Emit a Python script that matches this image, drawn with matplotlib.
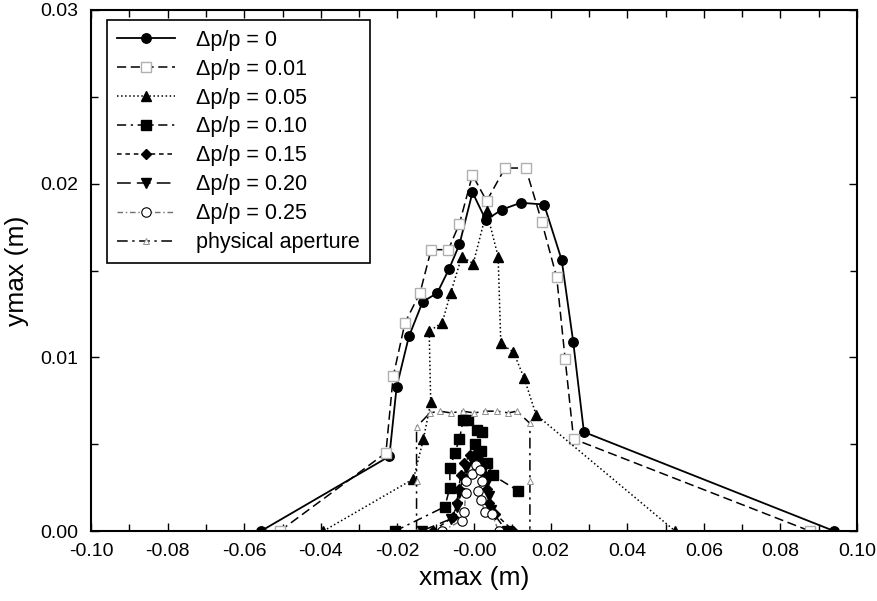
import matplotlib
matplotlib.use("Agg")
import matplotlib.pyplot as plt
from matplotlib.ticker import MultipleLocator, FormatStrFormatter

plt.rcParams['font.family'] = ['Liberation Sans', 'DejaVu Sans']

# Δp/p = 0
x0 = [-0.0556, -0.0221, -0.0202, -0.0170, -0.0134, -0.0096, -0.0065, -0.0038, -0.0004,
      0.0031, 0.0072, 0.0122, 0.0183, 0.0229, 0.0259, 0.0287, 0.0940]
y0 = [0.0, 0.0043, 0.0083, 0.0112, 0.0132, 0.0137, 0.0151, 0.0165, 0.0195,
      0.0179, 0.0185, 0.0189, 0.0188, 0.0156, 0.0109, 0.0057, 0.0]
# Δp/p = 0.01
x1 = [-0.0507, -0.0230, -0.0211, -0.0180, -0.0141, -0.0112, -0.0067, -0.0038, -0.0004,
      0.0033, 0.0081, 0.0135, 0.0177, 0.0216, 0.0238, 0.0260, 0.0877]
y1 = [0.0, 0.0045, 0.0089, 0.0120, 0.0137, 0.0162, 0.0162, 0.0177, 0.0205,
      0.0190, 0.0209, 0.0209, 0.0178, 0.0146, 0.0099, 0.0053, 0.0]
# Δp/p = 0.05
x5 = [-0.0393, -0.0158, -0.0132, -0.0113, -0.0117, -0.0083, -0.0061, -0.0032, -0.0002,
      0.0033, 0.0063, 0.0070, 0.0103, 0.0131, 0.0162, 0.0525]
y5 = [0.0, 0.0030, 0.0053, 0.0074, 0.0115, 0.0120, 0.0137, 0.0158, 0.0154,
      0.0184, 0.0158, 0.0108, 0.0103, 0.0088, 0.0067, 0.0]
# Δp/p = 0.10
x10 = [-0.0206, -0.0076, -0.0063, -0.0063, -0.0050, -0.0038, -0.0028, -0.0015, 0.0007,
       0.0020, 0.0003, 0.0018, 0.0035, 0.0050, 0.0116]
y10 = [0.0, 0.0014, 0.0025, 0.0036, 0.0045, 0.0053, 0.0064, 0.0064, 0.0058,
       0.0057, 0.0050, 0.0046, 0.0039, 0.0032, 0.0023]
# Δp/p = 0.15
x15 = [-0.0107, -0.0055, -0.0045, -0.0040, -0.0035, -0.0025, -0.0010, 0.0005, 0.0020,
       0.0030, 0.0035, 0.0040, 0.0055, 0.0103]
y15 = [0.0, 0.0008, 0.0016, 0.0024, 0.0032, 0.0039, 0.0044, 0.0045, 0.0040,
       0.0032, 0.0024, 0.0016, 0.0010, 0.0]
# Δp/p = 0.20
x20 = [-0.0137, -0.0060, -0.0045, -0.0038, -0.0030, -0.0020, -0.0005, 0.0010, 0.0025,
       0.0033, 0.0038, 0.0045, 0.0085]
y20 = [0.0, 0.0007, 0.0014, 0.0022, 0.0030, 0.0036, 0.0041, 0.0042, 0.0036,
       0.0028, 0.0020, 0.0012, 0.0]
# Δp/p = 0.25
x25 = [-0.0084, -0.0032, -0.0025, -0.0022, -0.0020, -0.0005, 0.0005, 0.0015, 0.0020,
       0.0010, 0.0018, 0.0028, 0.0047, 0.0064]
y25 = [0.0, 0.0006, 0.0011, 0.0022, 0.0029, 0.0033, 0.0038, 0.0035, 0.0029,
       0.0023, 0.0018, 0.0011, 0.0010, 0.0]
# physical aperture
xa = [-0.0150, -0.0150, -0.0150, -0.0115, -0.0090, -0.0060, -0.0030, 0.0000, 0.0030,
      0.0060, 0.0090, 0.0112, 0.0146, 0.0146, 0.0146]
ya = [0.0, 0.0029, 0.0060, 0.0068, 0.0069, 0.0068, 0.0069, 0.0068, 0.0069,
      0.0069, 0.0068, 0.0069, 0.0062, 0.0029, 0.0]

labels = ['Δp/p = 0', 'Δp/p = 0.01', 'Δp/p = 0.05', 'Δp/p = 0.10',
          'Δp/p = 0.15', 'Δp/p = 0.20', 'Δp/p = 0.25', 'physical aperture']

fig = plt.figure(figsize=(8.77, 6.01), dpi=100)
ax = fig.add_axes([91/877, 70/601, 766/877, 521/601])

ms = 6.8
ax.plot(x0, y0, '-', color='black', lw=1.3, marker='o', ms=ms, mfc='black', mec='black', label=labels[0])
ax.plot(x1, y1, '--', color='black', lw=1.1, dashes=(6, 3), marker='s', ms=ms, mfc='white',
        mec='#b0b0b0', label=labels[1])
ax.plot(x5, y5, ':', color='black', lw=1.1, marker='^', ms=ms, mfc='black', mec='black', label=labels[2])
ax.plot(x10, y10, '-.', color='black', lw=1.1, dashes=(6, 3, 1.5, 3), marker='s', ms=ms,
        mfc='black', mec='black', label=labels[3])
ax.plot(x15, y15, '--', color='black', lw=1.1, dashes=(3, 2.5), marker='D', ms=5.5, mfc='black',
        mec='black', label=labels[4])
ax.plot(x20, y20, '--', color='black', lw=1.1, dashes=(9, 4), marker='v', ms=ms, mfc='black',
        mec='black', label=labels[5])
ax.plot(x25, y25, '-.', color='#707070', lw=1.0, dashes=(4, 2, 1, 2), marker='o', ms=ms,
        mfc='white', mec='black', mew=0.8, label=labels[6])
ax.plot(xa, ya, '-.', color='black', lw=1.1, dashes=(7, 3, 1.5, 3), marker='^', ms=4,
        mfc='white', mec='#909090', mew=0.7, label=labels[7])

ax.set_xlim(-0.10, 0.10)
ax.set_ylim(0.0, 0.03)
ax.xaxis.set_major_locator(MultipleLocator(0.02))
ax.xaxis.set_minor_locator(MultipleLocator(0.01))
ax.yaxis.set_major_locator(MultipleLocator(0.01))
ax.yaxis.set_minor_locator(MultipleLocator(0.005))
ax.xaxis.set_major_formatter(FormatStrFormatter('%.2f'))
ax.yaxis.set_major_formatter(FormatStrFormatter('%.2f'))
ax.tick_params(which='both', direction='in', top=True, right=True, labelsize=14, width=1.0)
ax.tick_params(which='major', length=6)
ax.tick_params(axis='x', which='major', pad=9)
ax.tick_params(axis='y', which='major', pad=9)
ax.tick_params(which='minor', length=5)
for s in ax.spines.values():
    s.set_linewidth(1.5)

ax.set_xlabel('xmax (m)', fontsize=19, labelpad=4)
ax.set_ylabel('ymax (m)', fontsize=19, labelpad=8)

leg = ax.legend(loc='upper left', bbox_to_anchor=(0.021, 0.981), fontsize=15.5,
                handlelength=2.7, handletextpad=1.0, labelspacing=0.37, borderpad=0.45,
                borderaxespad=0, fancybox=False, framealpha=1, edgecolor='black')
leg.get_frame().set_linewidth(1.2)

fig.savefig('out.png', dpi=100)
